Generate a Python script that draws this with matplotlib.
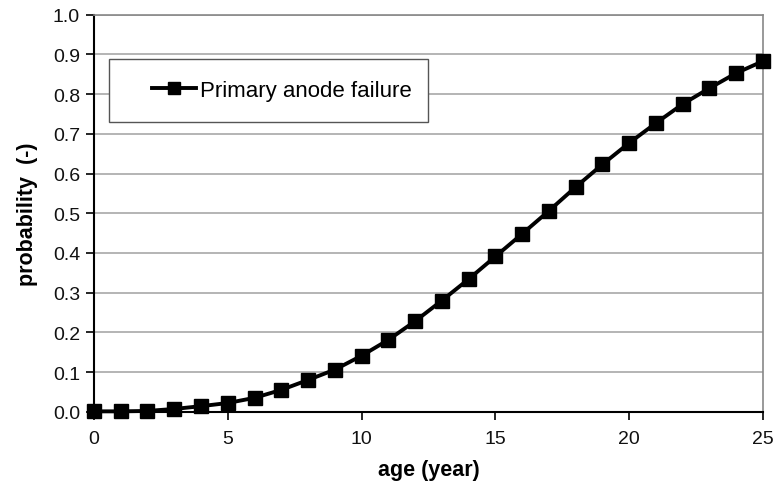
import numpy as np
import matplotlib.pyplot as plt
from matplotlib.patches import Rectangle

plt.rcParams['font.family'] = ['Liberation Sans', 'DejaVu Sans']

# age in years and failure probability of the primary anode
age = np.arange(0, 26)
prob = [0.001, 0.001, 0.002, 0.007, 0.014, 0.022, 0.035, 0.055, 0.080, 0.106,
        0.141, 0.181, 0.228, 0.280, 0.334, 0.391, 0.448, 0.506, 0.566, 0.623,
        0.677, 0.727, 0.775, 0.815, 0.853, 0.883]

fig = plt.figure(figsize=(7.74, 4.85), dpi=100)
ax = fig.add_axes([0.1214, 0.149, 0.8644, 0.8186])

ax.plot(age, prob, color='black', lw=2.8, marker='s', ms=10.5,
        label='Primary anode failure', clip_on=False, zorder=3)

ax.set_xlim(0, 25)
ax.set_ylim(0, 1.0)
ax.set_xticks(np.arange(0, 26, 5))
ax.set_yticks(np.arange(0, 1.01, 0.1))
ax.set_yticklabels(['%.1f' % v for v in np.arange(0, 1.01, 0.1)])
ax.tick_params(labelsize=14, direction='out', length=6, width=1.2,
               colors='black', labelcolor='#111111')
ax.tick_params(axis='x', pad=7)
ax.tick_params(axis='y', pad=4)

ax.grid(True, axis='y', color='#a8a8a8', lw=1.2)
ax.set_axisbelow(True)
for s in ['left', 'bottom']:
    ax.spines[s].set_color('black')
    ax.spines[s].set_linewidth(1.5)
for s in ['top', 'right']:
    ax.spines[s].set_color('#888888')
    ax.spines[s].set_linewidth(1.2)

ax.set_xlabel('age (year)', fontsize=15.5, fontweight='bold', labelpad=9)
ax.set_ylabel('probability  (-)', fontsize=15.5, fontweight='bold', labelpad=11)

# legend box drawn separately so it can be wider than its entry
ax.add_patch(Rectangle((0.0224, 0.730), 0.4766, 0.158, transform=ax.transAxes,
                       facecolor='white', edgecolor='#555555', lw=1.0, zorder=4))
leg = ax.legend(loc='center left', bbox_to_anchor=(0.086, 0.810), fontsize=16,
                frameon=False, handlelength=2.0, borderpad=0,
                handletextpad=0.2, borderaxespad=0)
leg.set_zorder(5)
leg.legend_handles[0].set_markersize(9)

fig.savefig('out.png', dpi=100)
